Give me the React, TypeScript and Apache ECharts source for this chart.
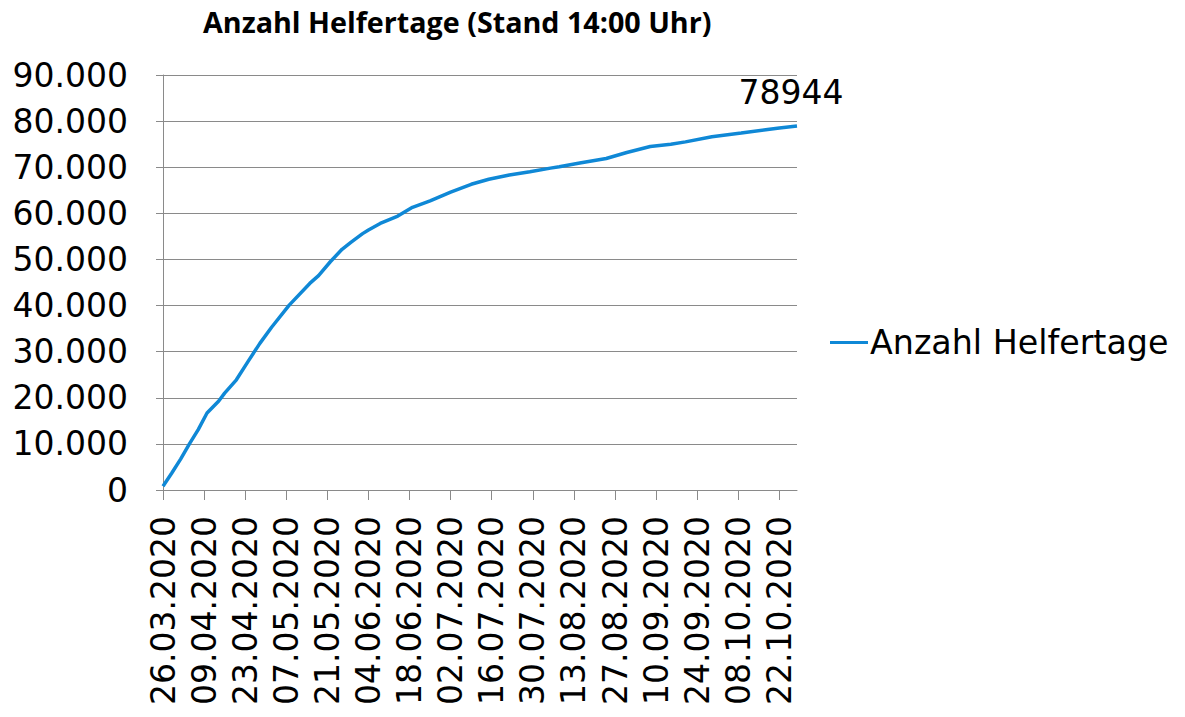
import React, { useEffect, useRef } from "react";
import * as echarts from "echarts";

const pad = (n: number) => (n < 10 ? "0" + n : String(n));
const START = Date.UTC(2020, 2, 26);
const DAY_COUNT = 217;
const categories: string[] = Array.from({ length: DAY_COUNT }, (_, i) => {
  const d = new Date(START + i * 86400000);
  return pad(d.getUTCDate()) + "." + pad(d.getUTCMonth() + 1) + "." + d.getUTCFullYear();
});

const readingDates = [
  "26.03.2020", "29.03.2020", "01.04.2020", "04.04.2020", "07.04.2020", "10.04.2020",
  "14.04.2020", "16.04.2020", "20.04.2020", "24.04.2020", "28.04.2020", "02.05.2020",
  "08.05.2020", "15.05.2020", "18.05.2020", "22.05.2020", "26.05.2020", "29.05.2020",
  "02.06.2020", "04.06.2020", "08.06.2020", "14.06.2020", "19.06.2020", "25.06.2020",
  "29.06.2020", "02.07.2020", "09.07.2020", "15.07.2020", "22.07.2020", "29.07.2020",
  "05.08.2020", "08.08.2020", "15.08.2020", "24.08.2020", "31.08.2020", "08.09.2020",
  "15.09.2020", "20.09.2020", "29.09.2020", "09.10.2020", "18.10.2020", "22.10.2020",
  "28.10.2020",
];
const readingValues = [
  800, 3700, 6700, 10000, 13100, 16700,
  19300, 21000, 23900, 27900, 31800, 35300,
  40100, 44800, 46500, 49500, 52200, 53700,
  55600, 56400, 57800, 59400, 61300, 62700,
  63800, 64600, 66300, 67400, 68300, 69000,
  69800, 70100, 70900, 71900, 73200, 74500,
  75000, 75500, 76600, 77400, 78200, 78500,
  78944,
];

const seriesName = "Anzahl Helfertage";
const titleText = "Anzahl Helfertage (Stand 14:00 Uhr)";
const yMin = 0;
const yMax = 90000;
const yInterval = 10000;

const fmtThousands = (v: number) => String(v).replace(/\B(?=(\d{3})+(?!\d))/g, ".");

export default function App() {
  const ref = useRef<HTMLDivElement>(null);
  useEffect(() => {
    document.body.style.margin = "0";
    const chart = echarts.init(ref.current!, null, { renderer: "svg" });
    const data = categories.map((c) => {
      const i = readingDates.indexOf(c);
      return i < 0 ? null : readingValues[i];
    });
    const lastDate = readingDates[readingDates.length - 1];
    const lastValue = readingValues[readingValues.length - 1];
    const gray = "#8a8a8a";
    chart.setOption({
      animation: false,
      backgroundColor: "#fff",
      title: {
        text: titleText,
        left: 198,
        top: 2,
        textStyle: {
          fontFamily: "Open Sans, sans-serif",
          fontWeight: "bold",
          fontSize: 28.7,
          color: "#000",
        },
      },
      legend: {
        left: 830,
        top: 326,
        padding: 0,
        icon: "rect",
        itemWidth: 38,
        itemHeight: 3,
        itemGap: 0,
        textStyle: { fontFamily: "DejaVu Sans", fontSize: 33.3, color: "#000", padding: [0, 0, 0, -3] },
        data: [seriesName],
      },
      grid: { left: 163, right: 388, top: 75, bottom: 227, containLabel: false },
      xAxis: {
        type: "category",
        data: categories,
        boundaryGap: false,
        axisLine: { lineStyle: { color: gray, width: 1 } },
        axisTick: { interval: 13, length: 10, lineStyle: { color: gray } },
        axisLabel: {
          interval: 13,
          rotate: 90,
          margin: 26,
          fontSize: 33,
          fontFamily: "DejaVu Sans",
          color: "#000",
        },
        splitLine: { show: false },
      },
      yAxis: {
        type: "value",
        min: yMin,
        max: yMax,
        interval: yInterval,
        axisLine: { show: true, lineStyle: { color: gray, width: 1 } },
        axisTick: { show: true, length: 7, lineStyle: { color: gray } },
        axisLabel: {
          margin: 35,
          fontSize: 33,
          fontFamily: "DejaVu Sans",
          color: "#000",
          formatter: (v: number) => fmtThousands(v),
        },
        splitLine: { show: true, lineStyle: { color: gray, width: 1 } },
      },
      series: [
        {
          name: seriesName,
          type: "line",
          data,
          connectNulls: true,
          showSymbol: false,
          symbol: "none",
          lineStyle: { color: "#0f88d6", width: 3.5 },
          itemStyle: { color: "#0f88d6" },
          markPoint: {
            symbol: "circle",
            symbolSize: 1,
            itemStyle: { color: "rgba(0,0,0,0)" },
            label: {
              show: true,
              position: "top",
              distance: 16,
              offset: [-6, 0],
              fontSize: 33,
              fontFamily: "DejaVu Sans",
              color: "#000",
              formatter: "{c}",
            },
            data: [{ coord: [lastDate, lastValue], value: lastValue }],
          },
        },
      ],
    });
    return () => chart.dispose();
  }, []);
  return <div ref={ref} style={{ width: 1185, height: 717 }} />;
}
